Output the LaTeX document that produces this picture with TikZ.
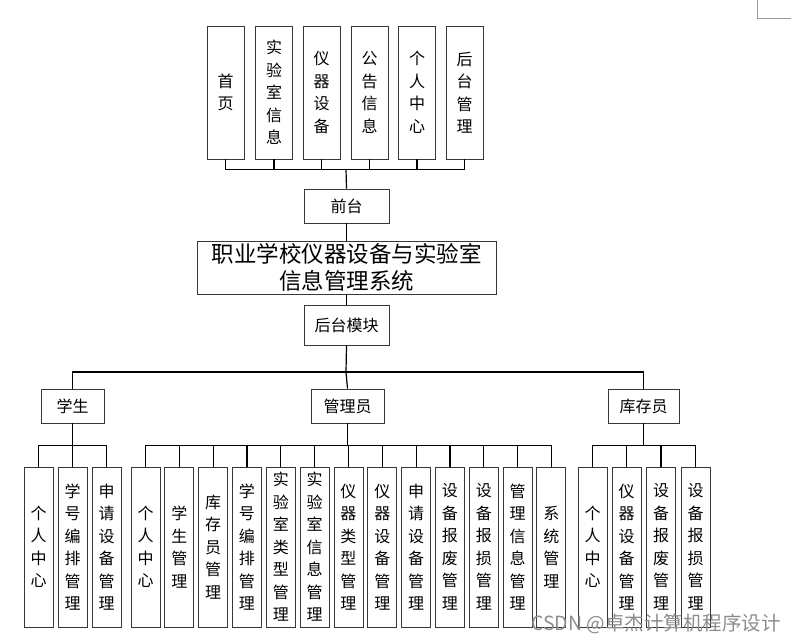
\documentclass[tikz,border=0pt]{standalone}
\usepackage{fontspec}
\setmainfont{Noto Sans CJK SC}
\begin{document}
\begin{tikzpicture}[x=1pt,y=-1pt,
  box/.style={draw=black!78,line width=0.95pt,inner sep=0pt,align=center,
    font=\fontsize{16}{22.5}\selectfont},
  topbox/.style={box,minimum width=37pt,minimum height=133pt},
  leafbox/.style={box,minimum width=29pt,minimum height=160pt},
  hbox/.style={box,minimum height=34pt},
  conn/.style={draw=black,line width=1.2pt}]
\useasboundingbox (0,0) rectangle (799,644);

% top row
\node[topbox] (t1) at (225.5,92.5) {首\\页};
\node[topbox] (t2) at (274,92.5) {实\\验\\室\\信\\息};
\node[topbox] (t3) at (321.5,92.5) {仪\\器\\设\\备};
\node[topbox] (t4) at (369.5,92.5) {公\\告\\信\\息};
\node[topbox] (t5) at (417,92.5) {个\\人\\中\\心};
\node[topbox] (t6) at (464.5,92.5) {后\\台\\管\\理};

\node[hbox,minimum width=85pt] (qt) at (346.5,206) {前台};
\node[box,minimum width=299pt,minimum height=53pt,font=\fontsize{22.5}{27}\selectfont] (sys) at (346.5,267.5) {职业学校仪器设备与实验室\\信息管理系统};
\node[box,minimum width=85pt,minimum height=40pt] (ht) at (346.5,325) {后台模块};

\node[hbox,minimum width=63pt] (xs) at (72.5,406) {学生};
\node[hbox,minimum width=73pt] (gly) at (347.5,406) {管理员};
\node[hbox,minimum width=71pt] (kcy) at (643.5,406) {库存员};

% top connectors
\coordinate (tb) at (346,169);
\draw[conn] (t1.south) -- ++(0,10) -| (t6.south);
\foreach \i in {2,...,5} {\draw[conn] (t\i.south) -- ++(0,10);}
\draw[conn] (tb) -- (qt.north);
\draw[conn] (qt.south) -- (sys.north);
\draw[conn] (sys.south) -- (ht.north);

% main bus
\coordinate (mb) at (346,372);
\draw[conn] (ht.south) -- (mb);
\draw[conn] (xs.north) |- (mb) -| (kcy.north);
\draw[conn] (mb) -- (gly.north);

% student leaves
\node[leafbox] (s1) at (38.5,547) {个\\人\\中\\心};
\node[leafbox] (s2) at (72.5,547) {学\\号\\编\\排\\管\\理};
\node[leafbox] (s3) at (106.5,547) {申\\请\\设\\备\\管\\理};
\draw[conn] (s1.north) -- ++(0,-21) -| (s3.north);
\draw[conn] (s2.north) -- ++(0,-21);
\draw[conn] (xs.south) -- (72.5,446);

% admin leaves
\foreach \i/\t in {0/{个\\人\\中\\心},1/{学\\生\\管\\理},2/{库\\存\\员\\管\\理},
  3/{学\\号\\编\\排\\管\\理},4/{实\\验\\室\\类\\型\\管\\理},5/{实\\验\\室\\信\\息\\管\\理},
  6/{仪\\器\\类\\型\\管\\理},7/{仪\\器\\设\\备\\管\\理},8/{申\\请\\设\\备\\管\\理},
  9/{设\\备\\报\\废\\管\\理},10/{设\\备\\报\\损\\管\\理},11/{管\\理\\信\\息\\管\\理},
  12/{系\\统\\管\\理}} {
  \node[leafbox] (a\i) at ({145.5+33.83*\i},547) {\t};
}
\draw[conn] (a0.north) -- ++(0,-21) -| (a12.north);
\foreach \i in {1,...,11} {\draw[conn] (a\i.north) -- ++(0,-21);}
\draw[conn] (gly.south) -- (347.5,446);

% stock leaves
\node[leafbox] (k1) at (592.5,547) {个\\人\\中\\心};
\node[leafbox] (k2) at (626.5,547) {仪\\器\\设\\备\\管\\理};
\node[leafbox] (k3) at (661,547) {设\\备\\报\\废\\管\\理};
\node[leafbox] (k4) at (695.5,547) {设\\备\\报\\损\\管\\理};
\draw[conn] (k1.north) -- ++(0,-21) -| (k4.north);
\draw[conn] (k2.north) -- ++(0,-21);
\draw[conn] (k3.north) -- ++(0,-21);
\draw[conn] (kcy.south) -- (643.5,446);

% corner mark and watermark
\coordinate (c1) at (757,0);
\coordinate (c2) at (757,19);
\coordinate (c3) at (791,19);
\draw[black!40,line width=1pt] (c1) -- (c2) -- (c3);
\node[text=black!45,font=\fontsize{19.5}{19.5}\selectfont,anchor=west,inner sep=0pt] (wm) at (531,624) {CSDN @卓杰计算机程序设计};
\end{tikzpicture}
\end{document}
